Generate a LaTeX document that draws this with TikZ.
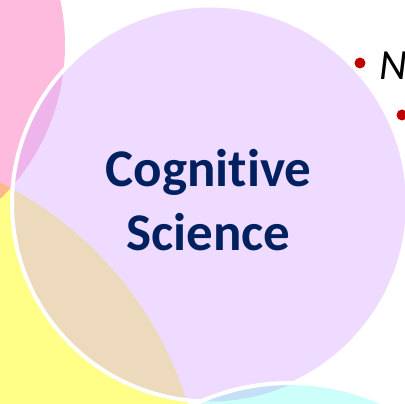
\documentclass[tikz,border=0pt]{standalone}
\usepackage{fontspec}
\setmainfont{Carlito}[Ligatures=NoCommon]
\usepackage{tikz}
\definecolor{lilac}{RGB}{217,175,255}
\definecolor{pinkdisc}{RGB}{255,187,221}
\definecolor{yellowdisc}{RGB}{255,255,136}
\definecolor{orangelens}{RGB}{255,182,140}
\definecolor{cyandisc}{RGB}{205,255,250}
\definecolor{bluelens}{RGB}{197,223,246}
\definecolor{navytxt}{RGB}{0,32,96}
\definecolor{bulletred}{RGB}{192,0,0}
\tikzset{
  headtxt/.style={font=\bfseries\fontsize{53}{63}\selectfont, text=navytxt, inner sep=0pt, anchor=base},
  bulletdot/.style={circle, fill=bulletred, inner sep=0pt, minimum size=11pt},
}

\begin{document}
\begin{tikzpicture}[x=1pt,y=1pt,line cap=round,line join=round]
      \useasboundingbox (0,0) rectangle (405,404);
      \clip (0,0) rectangle (405,404);
      % discs behind
      \fill[pinkdisc] (-150,359) circle (215pt);
      \fill[yellowdisc] (-164.5,-107.6) circle (368pt);
      \begin{scope}
        \clip (-150,359) circle (215pt);
        \fill[orangelens] (-164.5,-107.6) circle (368pt);
      \end{scope}
      % main disc
      \fill[lilac, fill opacity=0.45] (210,200.5) circle (198pt);
      \draw[white, line width=4pt] (210,200.5) circle (198pt);
      % disc at the bottom
      \fill[cyandisc] (290,-204) circle (225pt);
      \begin{scope}
        \clip (210,200.5) circle (198pt);
        \fill[bluelens] (290,-204) circle (225pt);
      \end{scope}
      \draw[white, line width=4pt] (290,-204) circle (225pt);
      % texts
      \node[headtxt] (cogtxt) at (208.5,217) {Cognitive};
      \node[headtxt] (scitxt) at (208.5,153) {Science};
      \node[bulletdot] (bula) at (360,341) {};
      \node[bulletdot] (bulb) at (402,289) {};
      \node[anchor=base west, inner sep=0pt, font=\itshape\fontsize{43}{50}\selectfont] (ntxt) at (379,324) {N};
\end{tikzpicture}
\end{document}
